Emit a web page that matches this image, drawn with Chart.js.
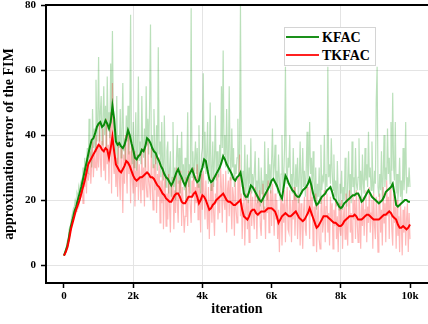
<!DOCTYPE html>
<html>
<head>
<meta charset="utf-8">
<script src="https://cdn.jsdelivr.net/npm/chart.js@4.4.1/dist/chart.umd.min.js"></script>
<style>
    body { margin: 0; background: #fff; }
    #cadre { position: relative; width: 428px; height: 324px; }
    #legende { position: absolute; left: 284px; top: 27px; width: 90px; height: 37px; border: 1px solid #d4d4d4; background: #fff;
               font: bold 14px "Liberation Serif", "Times New Roman", serif; color: #000; }
    .trait { position: absolute; left: 1px; width: 33px; height: 2px; }
    .nom { position: absolute; left: 37px; line-height: 16px; white-space: nowrap; }
</style>
</head>
<body>
<div id="cadre">
    <canvas id="graphFIM"></canvas>
    <div id="legende">
        <div class="trait" style="top:8px; background:#1a901a;"></div>
        <div class="nom" style="top:2px;">KFAC</div>
        <div class="trait" style="top:26px; background:#ff2020;"></div>
        <div class="nom" style="top:20px;">TKFAC</div>
    </div>
</div>
<script>
//Donnees - courbes lissees (une valeur toutes les 50 iterations)
var pasLisse = 50;
var kfacLisse = [
    2.9, 4.5, 6, 9, 12, 14, 16.5, 18, 20, 22,
    24, 26.5, 29, 31.5, 34, 36.5, 38.5, 39, 40.5, 42.5,
    43.5, 44, 42.5, 43, 44.5, 43.5, 42, 44, 49, 45,
    38, 37, 37.5, 36.5, 36, 37, 39, 41.5, 40, 37.5,
    35.5, 33, 32.5, 33.5, 34, 35.5, 35, 36.5, 39, 38.5,
    37.5, 36, 35, 34.5, 33, 32, 30.5, 29.5, 28, 27,
    26.5, 25.5, 24.5, 25.5, 27, 28.5, 29.5, 28, 27, 25.5,
    24.5, 26, 27.5, 28.5, 29.5, 28, 26.5, 25.5, 26, 28.5,
    30, 32.5, 32, 29, 26.5, 25.5, 26, 27, 28, 29,
    30, 31.5, 33.5, 32.5, 31, 30, 29, 28, 26.5, 26,
    27, 27.5, 28.5, 25.5, 22, 21, 21, 22.5, 24.5, 24,
    23, 22, 21, 20, 19.5, 20.5, 21.5, 22.5, 23.5, 24.5,
    26, 26.5, 25.5, 24.5, 23, 21.5, 20.5, 24, 27.5, 26.5,
    25, 24, 23, 22.5, 21.5, 21, 21, 22, 23, 23.5,
    24, 25, 26.5, 24.5, 22, 20, 18.5, 19, 20, 21,
    21.5, 22, 23, 23.5, 24, 22.5, 20.5, 20, 19, 18,
    17.5, 18, 19, 19.5, 20, 20.5, 21, 21.5, 21.5, 22,
    22, 21, 19.5, 20, 21, 22, 23, 22, 21, 20.5,
    20, 19.5, 19, 19.5, 20, 21, 22.5, 23, 23.5, 24,
    25, 22, 18.5, 18, 18.5, 19, 19.5, 20, 20, 19.5,
    19.5
];
var tkfacLisse = [
    2.9, 4, 5.5, 8, 11, 13, 15, 17, 18.5, 20,
    22, 24, 26, 28.5, 31, 32, 33, 34, 35, 36,
    37, 36.5, 35.5, 35, 36, 35.5, 33, 36, 39.5, 35,
    31, 30, 29, 28.5, 29.5, 30.5, 32, 31.5, 30.5, 29,
    27.5, 26.5, 26, 26.5, 27, 27, 27.5, 28, 28.5, 28,
    27, 27, 26.5, 25.5, 24.5, 24, 23, 22, 21.5, 20.5,
    20, 19.5, 19.5, 20.5, 21.5, 22, 22, 21, 19.5, 19,
    19, 20, 21, 21, 21, 22, 22.5, 21, 19, 20,
    21.5, 21, 20, 18.5, 17, 17.5, 18.5, 19, 20, 20.5,
    21, 21.5, 22, 21, 20, 19.5, 19.5, 19, 18.5, 18.5,
    19, 19.5, 20, 17, 15, 14.5, 14, 15, 16.5, 17,
    17, 16, 15.5, 16, 16.5, 16.5, 16.5, 17, 17.5, 17.5,
    17.5, 17, 16.5, 15, 13, 14, 15, 15.5, 16, 15.5,
    15, 15, 15.5, 16, 16.5, 15.5, 14.5, 14, 13.5, 14,
    15, 16, 17.5, 16, 14.5, 13, 11.5, 12, 13, 14,
    15, 15, 15, 14.5, 14, 13.5, 13, 13, 12.5, 12,
    12, 12.5, 13.5, 14, 14.5, 15, 15, 15, 15.5, 15,
    14, 14, 14, 14.5, 15, 15.5, 15.5, 15, 14.5, 14,
    14, 14, 14, 14.5, 15, 15.5, 15.5, 16, 16.5, 16,
    15, 14.5, 14, 12.5, 11.5, 11.5, 12, 11.5, 11, 11.5,
    12.5
];

//Donnees - valeurs brutes (une valeur toutes les 25 iterations)
var pasBrut = 25;
var kfacBrut = [
    3, 3.5, 4.5, 6, 7.5, 8, 11, 12, 13, 15, 16, 17.5, 18, 20, 19, 22, 21, 24, 22, 25,
    26, 22, 30, 25, 33, 27, 31, 36, 28, 45, 33, 38, 30, 48, 36, 42, 35, 57, 38, 44,
    64, 38, 47, 52, 37, 44, 55, 40, 49, 36, 58, 42, 47, 39, 62, 45, 72, 46, 41, 38,
    34, 52, 31, 40, 36, 48, 33, 41, 56, 35, 39, 32, 46, 38, 49, 34, 42, 77, 36, 31,
    44, 30, 36, 47, 29, 35, 58, 32, 38, 31, 52, 36, 33, 42, 30, 55, 37, 45, 34, 50,
    74, 33, 40, 30, 48, 35, 31, 43, 29, 67, 34, 38, 27, 44, 31, 26, 46, 30, 24, 35,
    38, 22, 29, 35, 21, 27, 44, 24, 30, 20, 33, 40, 25, 36, 22, 28, 41, 26, 31, 23,
    33, 20, 28, 47, 24, 31, 22, 79, 27, 35, 26, 32, 38, 28, 36, 24, 43, 27, 22, 34,
    36, 59, 30, 41, 28, 34, 44, 25, 31, 50, 23, 29, 38, 24, 33, 46, 26, 35, 30, 27,
    37, 31, 55, 36, 66, 34, 40, 30, 48, 32, 28, 55, 33, 26, 42, 30, 36, 24, 31, 28,
    33, 45, 27, 36, 80, 30, 24, 29, 22, 37, 20, 26, 34, 19, 30, 25, 39, 22, 28, 24,
    28, 35, 21, 26, 19, 33, 24, 18, 30, 22, 26, 17, 38, 23, 28, 20, 36, 25, 31, 22,
    32, 42, 26, 30, 37, 24, 29, 22, 34, 26, 20, 28, 40, 23, 27, 36, 61, 30, 25, 33,
    30, 40, 24, 28, 22, 36, 26, 20, 31, 24, 33, 19, 27, 38, 22, 26, 36, 24, 29, 21,
    29, 41, 25, 31, 44, 28, 33, 22, 35, 26, 20, 30, 17, 25, 21, 30, 19, 37, 23, 27,
    26, 40, 22, 28, 24, 61, 27, 31, 25, 39, 29, 23, 34, 21, 26, 18, 32, 22, 17, 25,
    22, 29, 17, 24, 20, 33, 22, 18, 26, 35, 21, 28, 19, 38, 24, 27, 21, 36, 25, 23,
    27, 39, 23, 29, 20, 34, 25, 22, 36, 26, 31, 24, 41, 27, 30, 23, 38, 26, 22, 29,
    25, 51, 61, 24, 21, 28, 23, 35, 20, 27, 40, 24, 30, 26, 42, 28, 33, 25, 44, 29,
    53, 30, 26, 44, 22, 28, 20, 24, 33, 21, 26, 19, 36, 23, 28, 44, 22, 27, 24, 30,
    24
];
var tkfacBrut = [
    3, 3.5, 4, 5.5, 7, 8, 10, 11, 12, 13, 14.5, 14, 16, 17, 16.5, 18, 19, 18, 20, 21,
    21, 25, 19, 27, 24, 30, 22, 33, 26, 28, 35, 25, 31, 38, 27, 34, 30, 40, 29, 37,
    30, 44, 33, 27, 38, 42, 29, 35, 26, 45, 31, 37, 25, 40, 47, 22, 56, 32, 28, 34,
    24, 33, 21, 38, 27, 20, 36, 29, 16, 34, 25, 40, 30, 22, 41, 28, 35, 19, 38, 26,
    22, 35, 18, 29, 24, 34, 20, 31, 26, 19, 36, 23, 30, 18, 37, 25, 21, 38, 27, 24,
    20, 36, 25, 17, 31, 23, 34, 16, 28, 21, 33, 13, 26, 19, 30, 11, 24, 28, 12, 22,
    14, 28, 18, 10, 25, 21, 27, 11, 23, 16, 30, 19, 13, 26, 22, 29, 12, 24, 17, 10,
    15, 27, 20, 12, 29, 23, 18, 13, 26, 21, 30, 16, 24, 19, 31, 14, 25, 22, 10, 28,
    17, 29, 22, 14, 26, 18, 11, 24, 8, 20, 25, 13, 27, 16, 9, 22, 19, 28, 14, 21,
    16, 30, 24, 13, 28, 20, 17, 29, 10, 23, 26, 15, 27, 19, 11, 24, 21, 9, 26, 17,
    13, 27, 20, 34, 15, 22, 8, 19, 24, 6, 17, 22, 11, 20, 7, 18, 23, 12, 21, 15,
    11, 24, 19, 8, 21, 15, 23, 12, 9, 20, 25, 14, 18, 8, 22, 16, 26, 10, 19, 23,
    12, 25, 18, 9, 22, 14, 20, 8, 17, 4, 15, 21, 6, 19, 13, 23, 7, 18, 24, 11,
    10, 23, 17, 7, 20, 14, 24, 9, 18, 22, 8, 16, 21, 6, 19, 13, 5, 17, 21, 11,
    9, 24, 16, 20, 8, 26, 15, 21, 6, 18, 12, 22, 4, 15, 19, 8, 5, 17, 21, 10,
    13, 23, 7, 18, 22, 10, 16, 6, 21, 14, 19, 5, 17, 12, 20, 8, 15, 4, 19, 11,
    9, 20, 5, 15, 18, 8, 22, 12, 6, 19, 23, 10, 16, 7, 22, 14, 20, 8, 23, 13,
    7, 22, 16, 5, 19, 12, 21, 9, 17, 23, 7, 18, 13, 24, 10, 16, 20, 5, 22, 12,
    8, 21, 15, 4, 18, 22, 10, 17, 6, 24, 13, 19, 7, 26, 15, 21, 8, 24, 18, 11,
    6, 22, 13, 18, 5, 20, 9, 15, 4, 19, 12, 3, 17, 10, 18, 6, 14, 19, 4, 16,
    8
];

var ticksX = [0, 2000, 4000, 6000, 8000, 10000];
var ticksY = [0, 20, 40, 60, 80];
var grilleX = [2000, 4000, 8000];
var police = '"Liberation Serif", "Times New Roman", serif';

function ToPoints(valeurs, pas) {
    var points = [];
    for (var i = 0; i < valeurs.length; i++) {
        points.push({ x: i * pas, y: valeurs[i] });
    }
    return points;
}

//Bordure du haut du graphique
var bordureHaut = {
    id: 'bordureHaut',
    afterDraw: function (chart) {
        var ctx = chart.ctx;
        var zone = chart.chartArea;
        ctx.save();
        ctx.strokeStyle = '#000';
        ctx.lineWidth = 2;
        ctx.beginPath();
        ctx.moveTo(zone.left - 1, zone.top);
        ctx.lineTo(zone.right, zone.top);
        ctx.stroke();
        ctx.restore();
    }
};

function DisplayGraphFIM(graphId) {
    var ctx = document.getElementById(graphId).getContext('2d');
    var chart = new Chart(ctx, {
        type: 'line',
        data: {
            datasets: [
                { label: 'TKFAC', data: ToPoints(tkfacLisse, pasLisse), borderColor: '#ff0000', borderWidth: 2, order: 0 },
                { label: 'KFAC', data: ToPoints(kfacLisse, pasLisse), borderColor: '#0a8a0a', borderWidth: 2, order: 1 },
                { label: 'TKFAC brut', data: ToPoints(tkfacBrut, pasBrut), borderColor: 'rgba(255,0,0,0.28)', borderWidth: 1.2, order: 2 },
                { label: 'KFAC brut', data: ToPoints(kfacBrut, pasBrut), borderColor: 'rgba(0,140,0,0.27)', borderWidth: 1.2, order: 3 }
            ]
        },
        options: {
            responsive: true,
            maintainAspectRatio: false,
            animation: false,
            elements: { point: { radius: 0 }, line: { tension: 0 } },
            layout: { padding: { top: 5, right: 0, left: 0, bottom: 0 } },
            plugins: { legend: { display: false }, tooltip: { enabled: false } },
            scales: {
                x: {
                    type: 'linear',
                    min: -520,
                    max: 10520,
                    afterBuildTicks: function (s) { s.ticks = ticksX.map(function (v) { return { value: v }; }); },
                    afterFit: function (s) { s.height = 41; s.paddingLeft = 0; s.paddingRight = 0; },
                    grid: {
                        color: function (c) { return (c.tick && grilleX.indexOf(c.tick.value) >= 0) ? '#e4e4e4' : 'rgba(0,0,0,0)'; },
                        tickColor: '#000',
                        tickLength: 5,
                        tickWidth: 1.5
                    },
                    border: { color: '#000', width: 2 },
                    ticks: {
                        color: '#000',
                        padding: 2,
                        maxRotation: 0,
                        font: { family: police, size: 11, weight: 'bold' },
                        callback: function (v) { return v === 0 ? '0' : (v / 1000) + 'k'; }
                    },
                    title: { display: true, text: 'iteration', color: '#000', font: { family: police, size: 14, weight: 'bold' }, padding: { top: 0, bottom: 6 } }
                },
                y: {
                    min: -5.5,
                    max: 80,
                    afterBuildTicks: function (s) { s.ticks = ticksY.map(function (v) { return { value: v }; }); },
                    afterFit: function (s) { s.width = 46; s.paddingTop = 0; s.paddingBottom = 0; },
                    grid: { color: '#e4e4e4', tickColor: '#000', tickLength: 5, tickWidth: 1.5 },
                    border: { color: '#000', width: 2 },
                    ticks: { color: '#000', padding: 5, font: { family: police, size: 11, weight: 'bold' } },
                    title: { display: true, text: 'approximation error of the FIM', color: '#000', font: { family: police, size: 14, weight: 'bold' }, padding: { top: 1, bottom: 0 } }
                }
            }
        },
        plugins: [bordureHaut]
    });
}

DisplayGraphFIM('graphFIM');
</script>
</body>
</html>
